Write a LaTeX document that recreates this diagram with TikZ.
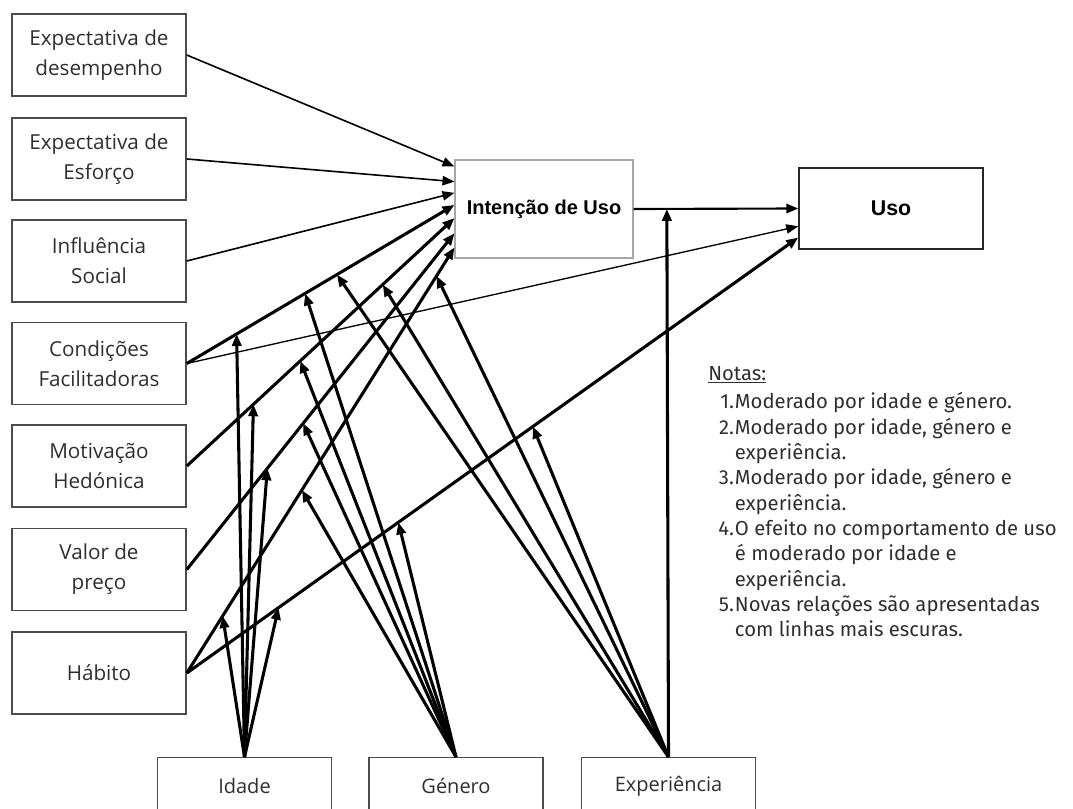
\documentclass[tikz,border=0pt]{standalone}
\usepackage{fontspec}
\setmainfont{Open Sans}
\newfontfamily\notefont{Fira Sans}
\newfontfamily\headfont{Liberation Sans}
\usetikzlibrary{arrows.meta,calc}

\begin{document}
\begin{tikzpicture}[x=0.75pt, y=-0.75pt,
  factor/.style={draw=black!70, line width=1.2pt, minimum width=130.5pt,
    minimum height=61.5pt, inner sep=0pt, align=center, text=black!82,
    font=\fontsize{15.5}{22.5}\selectfont},
  moderator/.style={draw=black!70, line width=1.1pt, minimum width=130.5pt,
    minimum height=42pt, inner sep=0pt, anchor=north, text=black!82,
    font=\fontsize{15}{18}\selectfont},
  outcome/.style={inner sep=0pt, font=\headfont\fontsize{15}{18}\selectfont\bfseries},
  headed/.style={-{Triangle[length=9pt,width=7pt]}},
  thinpath/.style={headed, line width=1.2pt},
  boldpath/.style={headed, line width=2.3pt},
]
\useasboundingbox (0,0) rectangle (1073,809);
\clip (0,0) rectangle (1073,809);

% determinants
\node[factor] (de) at (99,55)    {Expectativa de\\desempenho};
\node[factor] (ee) at (99,159)   {Expectativa de\\Esforço};
\node[factor] (is) at (99,261)   {Influência\\Social};
\node[factor] (cf) at (99,363.5) {Condições\\Facilitadoras};
\node[factor] (mh) at (99,466)   {Motivação\\Hedónica};
\node[factor] (vp) at (99,569.5) {Valor de\\preço};
\node[factor] (ha) at (99,673)   {Hábito};

% outcomes
\node[outcome, draw=black!35, line width=0.8pt, minimum width=133.5pt,
  minimum height=73.5pt] (iu) at (544,209) {Intenção de Uso};
\node[outcome, draw=black!85, line width=1.1pt, minimum width=138pt,
  minimum height=60.75pt, font=\headfont\fontsize{16}{18}\selectfont\bfseries]
  (uso) at (891,208.5) {Uso};

% moderators
\node[moderator] (idade) at (244.5,757) {Idade};
\node[moderator] (genero) at (456,757) {Género};
\node[moderator] (expe) at (668.5,757) {Experiência};

% arrival points on the left side of the outcome boxes
\coordinate (in1) at ($(iu.north west)!0.071!(iu.south west)$);
\coordinate (in2) at ($(iu.north west)!0.224!(iu.south west)$);
\coordinate (in3) at ($(iu.north west)!0.337!(iu.south west)$);
\coordinate (in4) at ($(iu.north west)!0.459!(iu.south west)$);
\coordinate (in5) at ($(iu.north west)!0.592!(iu.south west)$);
\coordinate (in6) at ($(iu.north west)!0.745!(iu.south west)$);
\coordinate (in7) at ($(iu.north west)!0.888!(iu.south west)$);
\coordinate (us2) at ($(uso.north west)!0.716!(uso.south west)$);
\coordinate (us3) at ($(uso.north west)!0.852!(uso.south west)$);

% direct effects
\draw[thinpath] (de.east) -- (in1);
\draw[thinpath] (ee.east) -- (in2);
\draw[thinpath] (is.east) -- (in3);
\draw[boldpath] (cf.east) -- (in4);
\draw[boldpath] (mh.east) -- (in5);
\draw[boldpath] (vp.east) -- (in6);
\draw[boldpath] (ha.east) -- (in7);
\draw[thinpath, line width=1pt] (cf.east) -- (us2);
\draw[boldpath] (ha.east) -- (us3);
\draw[thinpath, line width=1.6pt] (iu.east) -- (uso.west);

% moderation by age
\draw[boldpath] (idade.north) -- ($(cf.east)!0.186!(in4)$);
\draw[boldpath] (idade.north) -- ($(mh.east)!0.249!(in5)$);
\draw[boldpath] (idade.north) -- ($(vp.east)!0.301!(in6)$);
\draw[boldpath] (idade.north) -- ($(ha.east)!0.134!(in7)$);
\draw[boldpath] (idade.north) -- ($(ha.east)!0.150!(us3)$);

% moderation by gender
\draw[boldpath] (genero.north) -- ($(cf.east)!0.442!(in4)$);
\draw[boldpath] (genero.north) -- ($(mh.east)!0.424!(in5)$);
\draw[boldpath] (genero.north) -- ($(vp.east)!0.435!(in6)$);
\draw[boldpath] (genero.north) -- ($(ha.east)!0.430!(in7)$);
\draw[boldpath] (genero.north) -- ($(ha.east)!0.346!(us3)$);

% moderation by experience
\draw[boldpath] (expe.north) -- ($(cf.east)!0.561!(in4)$);
\draw[boldpath] (expe.north) -- ($(mh.east)!0.732!(in5)$);
\draw[boldpath] (expe.north) -- ($(ha.east)!0.933!(in7)$);
\draw[boldpath] (expe.north) -- ($(ha.east)!0.566!(us3)$);
\draw[boldpath] (expe.north) -- ($(iu.east)!(expe.north)!(uso.west)$);

% notes
\node[anchor=base west, inner sep=0pt, text=black!82,
  font=\notefont\fontsize{15.2}{19}\selectfont] (notes) at (708,380) {%
  \begin{tabular}[t]{@{\hspace{7.5pt}}r@{\hspace{0.8pt}}l@{}}
    \multicolumn{2}{@{}l@{}}{\underline{Notas:}}\\[2.7pt]
    1.&Moderado por idade e género.\\
    2.&Moderado por idade, género e\\
      &experiência.\\
    3.&Moderado por idade, género e\\
      &experiência.\\
    4.&O efeito no comportamento de uso\\
      &é moderado por idade e\\
      &experiência.\\
    5.&Novas relações são apresentadas\\
      &com linhas mais escuras.
  \end{tabular}};
\end{tikzpicture}
\end{document}
